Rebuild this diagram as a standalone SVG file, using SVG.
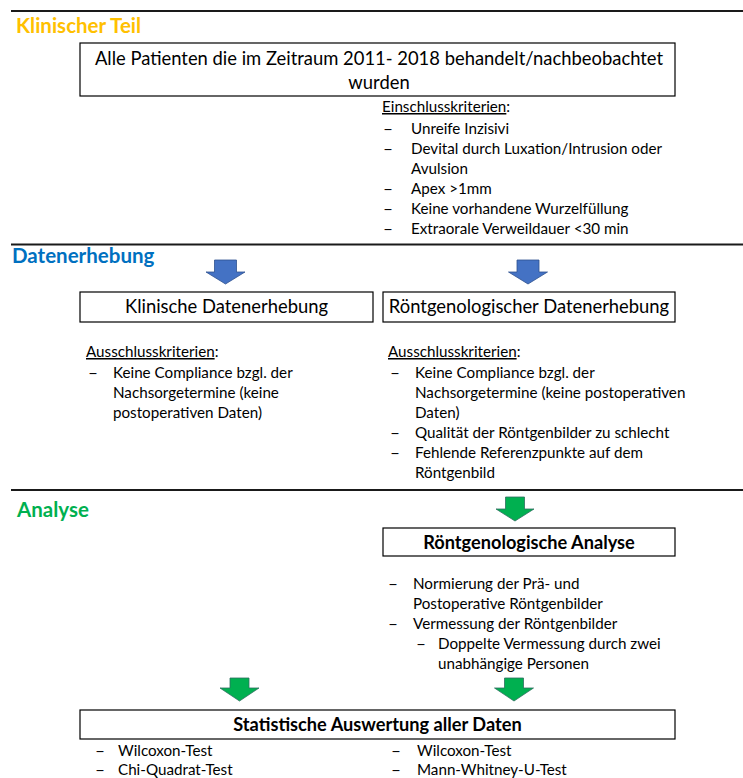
<svg xmlns="http://www.w3.org/2000/svg" width="743" height="778" viewBox="0 0 743 778">
  <style>
    text { font-family: Lato, "Open Sans", "Liberation Sans", sans-serif; fill: #000; }
    .head { font-size: 20.5px; font-weight: bold; }
    .box { fill: #fff; stroke: #000; stroke-width: 1.2; }
    .boxtxt { font-size: 18.4px; text-anchor: middle; }
    .boxbold { font-size: 18.2px; font-weight: bold; text-anchor: middle; }
    .body { font-size: 15.2px; }
    .dash { font-size: 15.2px; }
    .rule { stroke: #1a1a1a; stroke-width: 2; }
    .blue { fill: #4472C4; stroke: #2F528F; stroke-width: 0.8; }
    .green { fill: #00B050; stroke: #2F6F5F; stroke-width: 0.8; }
    .ul { text-decoration: underline; }
  </style>

  <!-- section separators -->
  <g id="rules">
    <line class="rule" x1="11" y1="11" x2="743" y2="11"/>
    <line class="rule" x1="11" y1="244.5" x2="743" y2="244.5"/>
    <line class="rule" x1="11" y1="490" x2="743" y2="490"/>
  </g>

  <!-- section headings -->
  <g id="heading-klinisch"><text class="head" x="16" y="33" style="fill:#FFC000">Klinischer Teil</text></g>
  <g id="heading-daten"><text class="head" x="12" y="263" style="fill:#0070C0">Datenerhebung</text></g>
  <g id="heading-analyse"><text class="head" x="17" y="517" style="fill:#00B050">Analyse</text></g>

  <!-- patient population -->
  <g id="node-patienten">
    <rect class="box" x="80" y="43" width="595" height="53"/>
    <text class="boxtxt" x="379" y="65">Alle Patienten die im Zeitraum 2011- 2018 behandelt/nachbeobachtet</text>
    <text class="boxtxt" x="379" y="89">wurden</text>
  </g>

  <!-- inclusion criteria -->
  <g id="einschluss">
    <text class="body" x="382" y="112"><tspan class="ul">Einschlusskriterien</tspan>:</text>
    <text class="dash" x="383" y="134" textLength="10" lengthAdjust="spacingAndGlyphs">–</text><text class="body" x="411" y="134">Unreife Inzisivi</text>
    <text class="dash" x="383" y="154" textLength="10" lengthAdjust="spacingAndGlyphs">–</text><text class="body" x="411" y="154">Devital durch Luxation/Intrusion oder</text>
    <text class="body" x="411" y="174">Avulsion</text>
    <text class="dash" x="383" y="194" textLength="10" lengthAdjust="spacingAndGlyphs">–</text><text class="body" x="411" y="194">Apex &gt;1mm</text>
    <text class="dash" x="383" y="214" textLength="10" lengthAdjust="spacingAndGlyphs">–</text><text class="body" x="411" y="214">Keine vorhandene Wurzelfüllung</text>
    <text class="dash" x="383" y="234" textLength="10" lengthAdjust="spacingAndGlyphs">–</text><text class="body" x="411" y="234">Extraorale Verweildauer &lt;30 min</text>
  </g>

  <!-- data collection -->
  <g id="node-klinische-daten">
    <rect class="box" x="80" y="292" width="293" height="30"/>
    <text class="boxtxt" x="226.5" y="313">Klinische Datenerhebung</text>
  </g>
  <g id="node-roentgen-daten">
    <rect class="box" x="383" y="292" width="292" height="30"/>
    <text class="boxtxt" x="529" y="313">Röntgenologischer Datenerhebung</text>
  </g>

  <!-- exclusion criteria, clinical -->
  <g id="ausschluss-klinisch">
    <text class="body" x="86" y="357"><tspan class="ul">Ausschlusskriterien</tspan>:</text>
    <text class="dash" x="88" y="377.5" textLength="10" lengthAdjust="spacingAndGlyphs">–</text><text class="body" x="113" y="377.5">Keine Compliance bzgl. der</text>
    <text class="body" x="113" y="397.5">Nachsorgetermine (keine</text>
    <text class="body" x="113" y="417.5">postoperativen Daten)</text>
  </g>

  <!-- exclusion criteria, radiographic -->
  <g id="ausschluss-roentgen">
    <text class="body" x="388" y="357"><tspan class="ul">Ausschlusskriterien</tspan>:</text>
    <text class="dash" x="390" y="378" textLength="10" lengthAdjust="spacingAndGlyphs">–</text><text class="body" x="415" y="378">Keine Compliance bzgl. der</text>
    <text class="body" x="415" y="398">Nachsorgetermine (keine postoperativen</text>
    <text class="body" x="415" y="418">Daten)</text>
    <text class="dash" x="390" y="438" textLength="10" lengthAdjust="spacingAndGlyphs">–</text><text class="body" x="415" y="438">Qualität der Röntgenbilder zu schlecht</text>
    <text class="dash" x="390" y="458" textLength="10" lengthAdjust="spacingAndGlyphs">–</text><text class="body" x="415" y="458">Fehlende Referenzpunkte auf dem</text>
    <text class="body" x="415" y="478">Röntgenbild</text>
  </g>

  <!-- radiographic analysis -->
  <g id="node-roentgen-analyse">
    <rect class="box" x="383" y="528" width="292" height="28"/>
    <text class="boxbold" x="529" y="548.5">Röntgenologische Analyse</text>
  </g>
  <g id="analyse-schritte">
    <text class="dash" x="388" y="589" textLength="10" lengthAdjust="spacingAndGlyphs">–</text><text class="body" x="413" y="589">Normierung der Prä- und</text>
    <text class="body" x="413" y="609">Postoperative Röntgenbilder</text>
    <text class="dash" x="388" y="629" textLength="10" lengthAdjust="spacingAndGlyphs">–</text><text class="body" x="413" y="629">Vermessung der Röntgenbilder</text>
    <text class="dash" x="416" y="649" textLength="10" lengthAdjust="spacingAndGlyphs">–</text><text class="body" x="438" y="649">Doppelte Vermessung durch zwei</text>
    <text class="body" x="438" y="669">unabhängige Personen</text>
  </g>

  <!-- statistics -->
  <g id="node-statistik">
    <rect class="box" x="80" y="710" width="595" height="29"/>
    <text class="boxbold" x="377.5" y="731">Statistische Auswertung aller Daten</text>
  </g>
  <g id="tests-links">
    <text class="dash" x="95" y="756" textLength="10" lengthAdjust="spacingAndGlyphs">–</text><text class="body" x="118" y="756">Wilcoxon-Test</text>
    <text class="dash" x="95" y="775" textLength="10" lengthAdjust="spacingAndGlyphs">–</text><text class="body" x="118" y="775">Chi-Quadrat-Test</text>
  </g>
  <g id="tests-rechts">
    <text class="dash" x="391" y="756" textLength="10" lengthAdjust="spacingAndGlyphs">–</text><text class="body" x="417" y="756">Wilcoxon-Test</text>
    <text class="dash" x="391" y="775" textLength="10" lengthAdjust="spacingAndGlyphs">–</text><text class="body" x="417" y="775">Mann-Whitney-U-Test</text>
  </g>

  <!-- block arrows -->
  <g id="connectors">
    <polygon class="blue" points="214.5,260 236.5,260 236.5,272 245,272 225.5,284 206,272 214.5,272"/>
    <polygon class="blue" points="517,260 539,260 539,272 547.5,272 528,284 508.5,272 517,272"/>
    <polygon class="green" points="505.5,497 524.5,497 524.5,509 534,509 515,521 496,509 505.5,509"/>
    <polygon class="green" points="230,678 249,678 249,688 259,688 239.5,701 220,688 230,688"/>
    <polygon class="green" points="504.5,678 523.5,678 523.5,688 533.5,688 514,701 494.5,688 504.5,688"/>
  </g>
</svg>
